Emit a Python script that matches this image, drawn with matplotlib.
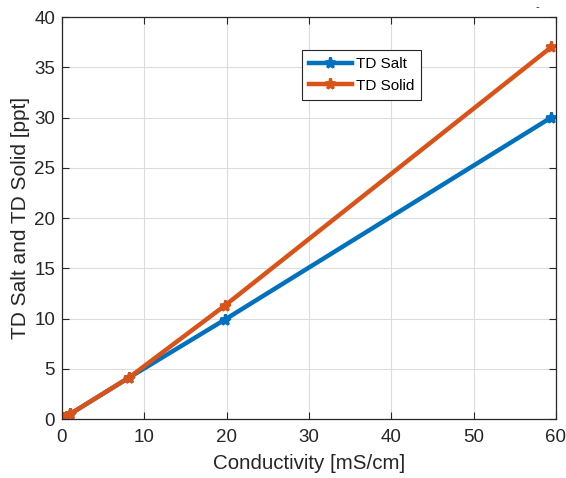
import matplotlib.pyplot as plt

plt.rcParams['font.family'] = ['Liberation Sans', 'DejaVu Sans']

# conductivity readings and converted values
conductivity = [0.2, 1.0, 8.1, 19.8, 59.4]
td_salt = [0.1, 0.5, 4.1, 9.9, 30.0]
td_solid = [0.1, 0.5, 4.1, 11.3, 37.0]

fig = plt.figure(figsize=(5.66, 4.78), dpi=100)
ax = fig.add_axes([0.1095, 0.1234, 0.8725, 0.8405])

ax.plot(conductivity, td_salt, '-*', color='#0072BD', linewidth=3.2,
        markersize=8, markeredgewidth=2, label='TD Salt')
ax.plot(conductivity, td_solid, '-*', color='#D95319', linewidth=3.2,
        markersize=8, markeredgewidth=2, label='TD Solid')

ax.set_xlim(0, 60)
ax.set_ylim(0, 40)
ax.set_xticks(range(0, 61, 10))
ax.set_yticks(range(0, 41, 5))
ax.grid(True, color='#dcdcdc', linewidth=0.8)
ax.set_axisbelow(True)
ax.tick_params(direction='in', labelsize=13.5, length=5, top=True, right=True,
               color='#262626', labelcolor='#262626')
ax.tick_params(axis='x', pad=7)
ax.tick_params(axis='y', pad=5)
for s in ax.spines.values():
    s.set_color('#262626')
    s.set_linewidth(0.9)

ax.set_xlabel('Conductivity [mS/cm]', fontsize=14.8, color='#262626', labelpad=6)
ax.set_ylabel('TD Salt and TD Solid [ppt]', fontsize=15, color='#262626', labelpad=3)

leg = ax.legend(loc='upper left', bbox_to_anchor=(0.486, 0.918), fontsize=11,
                fancybox=False, framealpha=1, edgecolor='#262626',
                borderaxespad=0, borderpad=0.45, handlelength=2.8,
                handletextpad=0.3, labelspacing=0.5)
leg.get_frame().set_linewidth(0.8)

fig.text(0.949, 0.979, '-', fontsize=8, color='#262626', ha='center')

fig.savefig('out.png', dpi=100)
